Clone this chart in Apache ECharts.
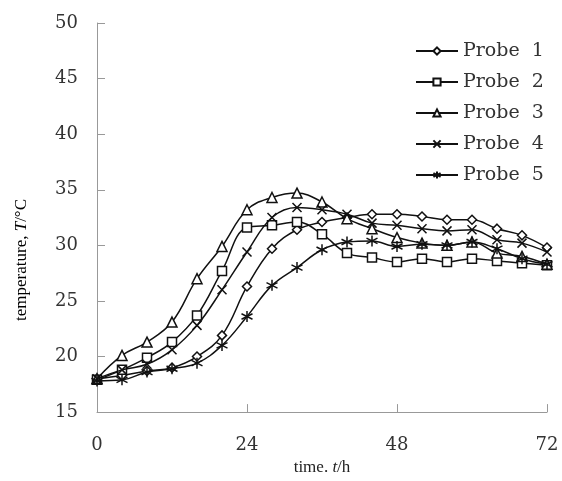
<!DOCTYPE html>
<html>
<head>
<meta charset="utf-8">
<script src="https://cdn.jsdelivr.net/npm/echarts@6/dist/echarts.min.js"></script>
<style>
  html, body { margin: 0; padding: 0; background: #fff; }
  #chart { width: 562px; height: 481px; }
</style>
</head>
<body>
<div id="chart"></div>
<script>
// time points, hours
const hours = [0, 4, 8, 12, 16, 20, 24, 28, 32, 36, 40, 44, 48, 52, 56, 60, 64, 68, 72];
const xTicks = [0, 24, 48, 72];
const yTicks = [15, 20, 25, 30, 35, 40, 45, 50];

const probeNames = ['Probe  1', 'Probe  2', 'Probe  3', 'Probe  4', 'Probe  5'];

const probe1 = [18.0, 18.3, 18.7, 19.0, 20.0, 21.9, 26.3, 29.7, 31.4, 32.1, 32.5, 32.8, 32.8, 32.6, 32.3, 32.3, 31.5, 30.9, 29.8];
const probe2 = [17.9, 18.8, 19.9, 21.3, 23.7, 27.7, 31.6, 31.8, 32.1, 31.0, 29.3, 28.9, 28.5, 28.8, 28.5, 28.8, 28.6, 28.4, 28.2];
const probe3 = [18.0, 20.1, 21.3, 23.1, 27.0, 29.9, 33.2, 34.3, 34.7, 33.9, 32.4, 31.5, 30.7, 30.2, 30.0, 30.3, 29.3, 29.0, 28.3];
const probe4 = [18.0, 18.8, 19.3, 20.6, 22.8, 26.0, 29.4, 32.5, 33.4, 33.2, 32.8, 32.0, 31.8, 31.5, 31.3, 31.4, 30.5, 30.2, 29.4];
const probe5 = [17.8, 17.9, 18.6, 18.9, 19.4, 21.0, 23.6, 26.4, 28.0, 29.6, 30.3, 30.4, 29.9, 30.1, 30.0, 30.3, 29.7, 28.8, 28.3];

const probes = [probe1, probe2, probe3, probe4, probe5];
const symbols = [
    'diamond',
    'rect',
    'triangle',
    'path://M0,0L10,10M10,0L0,10',
    'path://M5,0L5,10M0,2.5L10,7.5M0,7.5L10,2.5'
];
const symbolSizes = [9, 9, 10, 9, 11];

const serif = '"DejaVu Serif", "Liberation Serif", serif';
const times = '"Liberation Serif", serif';
const titleRich = {
    a: {fontFamily: times, fontSize: 17, color: '#222'},
    i: {fontFamily: times, fontSize: 17, fontStyle: 'italic', color: '#222'}
};

const chart = echarts.init(document.getElementById('chart'));

chart.setOption({
    animation: false,
    grid: {left: 97, right: 15, top: 23, bottom: 59},
    legend: {
        orient: 'vertical',
        left: 410,
        top: 36,
        itemWidth: 42,
        itemHeight: 9,
        itemGap: 11,
        textStyle: {fontFamily: serif, fontSize: 19, color: '#333', lineHeight: 20},
        data: probeNames
    },
    graphic: [{
        type: 'text',
        x: 22,
        y: 260,
        rotation: Math.PI / 2,
        style: {
            text: '{a|temperature, }{i|T}{a|/°C}',
            rich: titleRich,
            align: 'center',
            verticalAlign: 'middle'
        }
    }],
    xAxis: {
        type: 'value',
        min: 0,
        max: 72,
        interval: 24,
        name: '{a|time. }{i|t}{a|/h}',
        nameLocation: 'middle',
        nameGap: 40,
        nameTextStyle: {rich: titleRich},
        axisLine: {lineStyle: {color: '#999', width: 1}},
        axisTick: {inside: true, length: 8, lineStyle: {color: '#999'}},
        axisLabel: {margin: 24, fontFamily: serif, fontSize: 18, color: '#333'},
        splitLine: {show: false}
    },
    yAxis: {
        type: 'value',
        min: 15,
        max: 50,
        interval: 5,
        axisLine: {show: true, lineStyle: {color: '#999', width: 1}},
        axisTick: {show: true, inside: true, length: 8, lineStyle: {color: '#999'}},
        axisLabel: {margin: 19, fontFamily: serif, fontSize: 18, color: '#333'},
        splitLine: {show: false}
    },
    series: probes.map((vals, i) => ({
        name: probeNames[i],
        type: 'line',
        smooth: 0.4,
        data: hours.map((h, k) => [h, vals[k]]),
        symbol: symbols[i],
        symbolSize: symbolSizes[i],
        z: 2 + i,
        lineStyle: {color: '#111', width: 1.5},
        itemStyle: {color: '#fff', borderColor: '#111', borderWidth: 1.5}
    }))
});
</script>
</body>
</html>
